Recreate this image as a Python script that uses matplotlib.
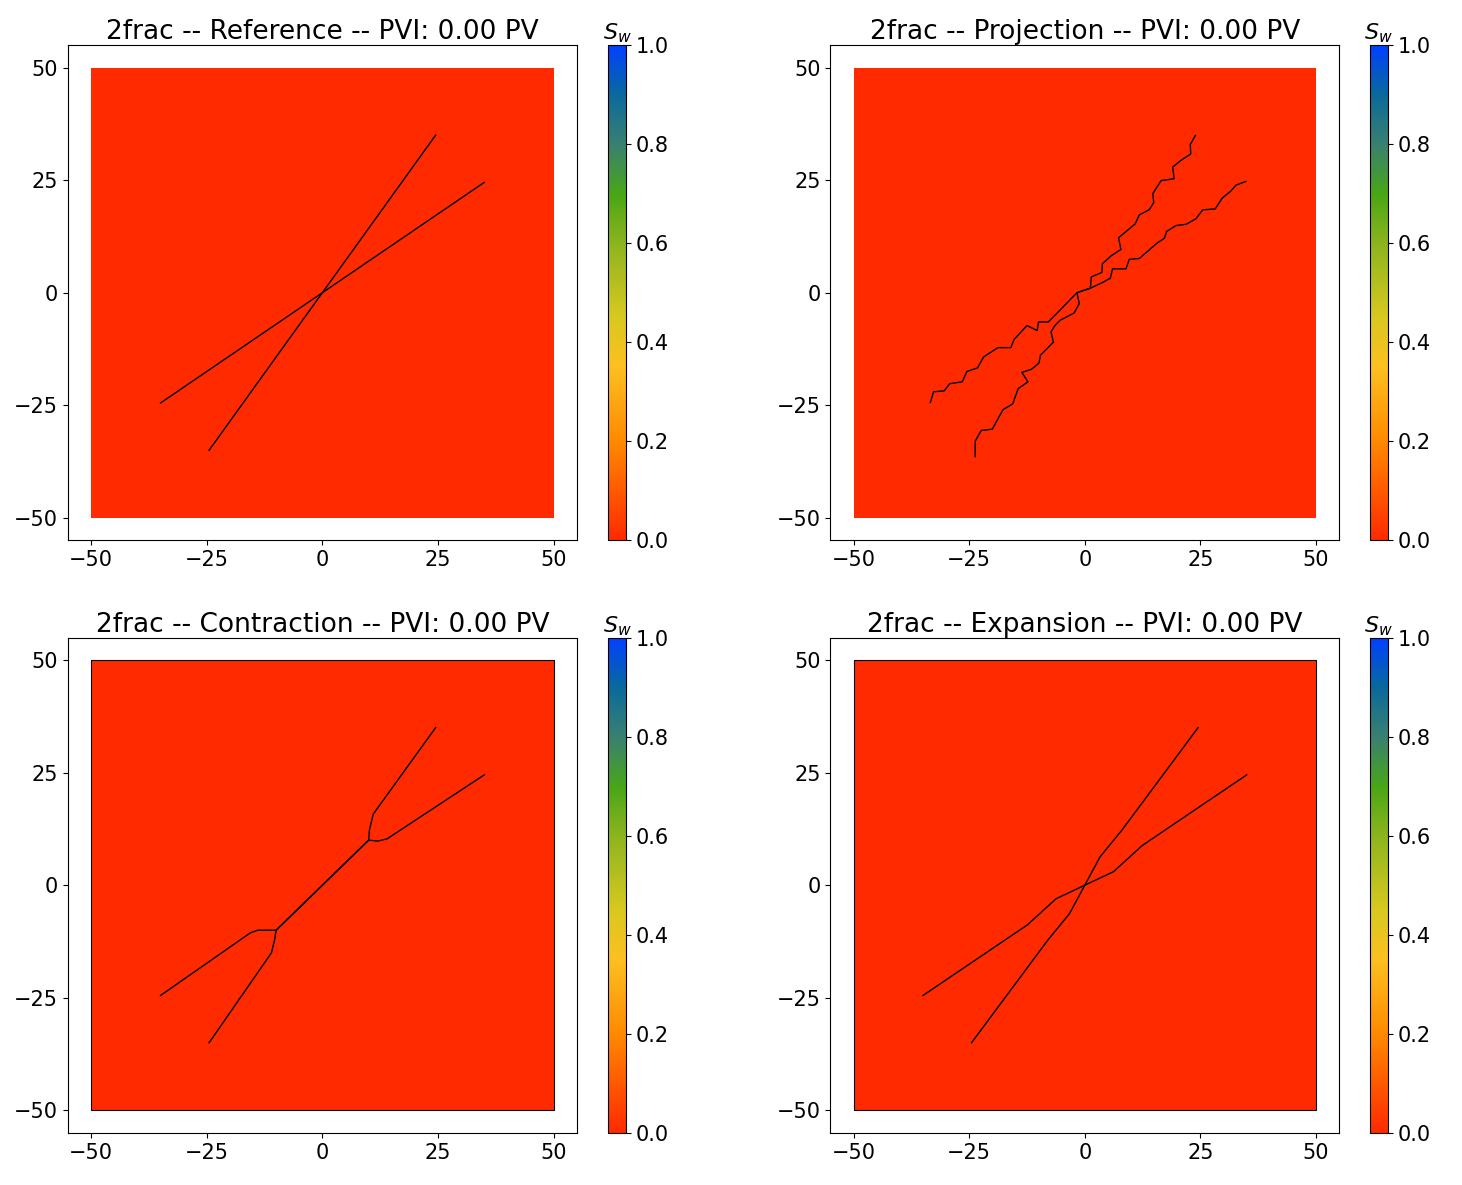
import matplotlib
matplotlib.use("Agg")
import matplotlib.pyplot as plt
import numpy as np
from matplotlib.colors import LinearSegmentedColormap
from matplotlib.patches import Rectangle

titles = ["2frac -- Reference -- PVI: 0.00 PV", "2frac -- Projection -- PVI: 0.00 PV",
          "2frac -- Contraction -- PVI: 0.00 PV", "2frac -- Expansion -- PVI: 0.00 PV"]
ticks = [-50, -25, 0, 25, 50]
cbar_ticks = [0.0, 0.2, 0.4, 0.6, 0.8, 1.0]
sw_value = 0.0

ref_f1_x = [-24.5, 24.5]; ref_f1_y = [-35, 35]
ref_f2_x = [-35, 35]; ref_f2_y = [-24.5, 24.5]

proj_f1_x = [23.9, 22.8, 22.9, 20.8, 19.0, 19.3, 16.5, 14.7, 14.9, 13.9, 11.8, 10.9, 7.3, 7.8, 5.7, 3.8, 3.7, 1.4, 1.2, -1.7,
             -1.2, -2.3, -5.3, -6.4, -7.3, -6.8, -9.6, -9.9, -11.5, -13.6, -12.3, -14.4, -15.6, -17.7, -20.0, -22.4, -23.7, -23.7]
proj_f1_y = [34.9, 32.9, 30.8, 29.4, 27.9, 25.3, 24.9, 22.0, 20.0, 18.4, 17.3, 15.3, 12.2, 9.6, 8.2, 6.4, 4.5, 3.5, 1.0, 0.0,
             -2.4, -4.5, -6.1, -7.2, -8.7, -11.0, -13.9, -15.6, -17.0, -17.7, -19.8, -21.3, -24.7, -26.0, -30.3, -30.6, -33.0, -36.4]
proj_f2_x = [34.8, 32.7, 31.5, 29.7, 28.2, 25.5, 24.0, 21.9, 19.7, 17.7, 17.2, 15.6, 11.8, 9.6, 8.9, 6.0, 5.5, 3.7, 1.2, -1.7,
             -3.5, -5.3, -7.9, -10.0, -10.3, -12.5, -15.3, -16.0, -18.8, -21.9, -23.2, -25.5, -26.5, -29.2, -30.4, -32.7, -33.4]
proj_f2_y = [24.7, 23.9, 22.5, 21.0, 18.6, 18.4, 16.4, 15.2, 14.9, 13.6, 12.1, 11.0, 7.6, 7.4, 5.3, 5.3, 3.2, 2.2, 1.0, 0.0,
             -1.9, -3.8, -6.5, -6.5, -8.4, -7.3, -10.4, -12.2, -12.2, -14.3, -16.7, -17.5, -19.8, -20.2, -21.8, -22.0, -24.4]

con_f1_x = [-24.5, -11.0, -10.3, -10.0, 10.0, 10.2, 11.0, 24.5]
con_f1_y = [-35, -15.0, -12.0, -10.0, 10.0, 12.4, 15.8, 35]
con_f2_x = [-35, -15.6, -14.0, -10.0, 10.0, 12.0, 14.0, 35]
con_f2_y = [-24.5, -10.6, -10.0, -10.0, 10.0, 9.8, 10.3, 24.5]

exp_f1_x = [-24.5, -8.0, -3.3, 0.0, 3.3, 8.0, 24.5]
exp_f1_y = [-35, -12.2, -6.3, 0.0, 6.3, 12.2, 35]
exp_f2_x = [-35, -12.4, -6.2, 0.0, 6.2, 12.4, 35]
exp_f2_y = [-24.5, -8.8, -3.0, 0.0, 3.0, 8.8, 24.5]

fracs = [[(ref_f1_x, ref_f1_y), (ref_f2_x, ref_f2_y)],
         [(proj_f1_x, proj_f1_y), (proj_f2_x, proj_f2_y)],
         [(con_f1_x, con_f1_y), (con_f2_x, con_f2_y)],
         [(exp_f1_x, exp_f1_y), (exp_f2_x, exp_f2_y)]]
border = [False, False, True, True]

cmap = LinearSegmentedColormap.from_list("sw", [
    (0.0, "#ff2a00"), (0.2, "#ff8a00"), (0.35, "#fcc020"), (0.45, "#d8c820"),
    (0.6, "#8cb41e"), (0.7, "#48a616"), (0.8, "#3a8070"), (0.9, "#0a6a9a"), (1.0, "#0040ff")])

fig = plt.figure(figsize=(14.62, 11.85), dpi=100)
lefts = [0.0465, 0.568]
cb_lefts = [0.416, 0.937]
bottoms = [0.544, 0.044]
W, H = 0.348, 0.418
edges = np.linspace(-50, 50, 101)
for i in range(4):
    r, c = divmod(i, 2)
    ax = fig.add_axes([lefts[c], bottoms[r], W, H])
    data = np.full((100, 100), sw_value)
    mesh = ax.pcolormesh(edges, edges, data, cmap=cmap, vmin=0, vmax=1)
    if border[i]:
        ax.add_patch(Rectangle((-50, -50), 100, 100, fill=False, ec="black", lw=0.8))
    for fx, fy in fracs[i]:
        ax.plot(fx, fy, color="black", lw=1.0)
    ax.set_xlim(-55, 55); ax.set_ylim(-55, 55)
    ax.set_xticks(ticks); ax.set_yticks(ticks)
    ax.tick_params(labelsize=15)
    ax.set_title(titles[i], fontsize=19, pad=4)
    cax = fig.add_axes([cb_lefts[c], bottoms[r], 0.0123, H])
    cb = fig.colorbar(mesh, cax=cax, ticks=cbar_ticks)
    cb.ax.tick_params(labelsize=15)
    cb.ax.set_yticklabels(["%.1f" % t for t in cbar_ticks])
    cax.set_title(r"$S_w$", fontsize=16, pad=3)

fig.savefig("out.png", dpi=100)
